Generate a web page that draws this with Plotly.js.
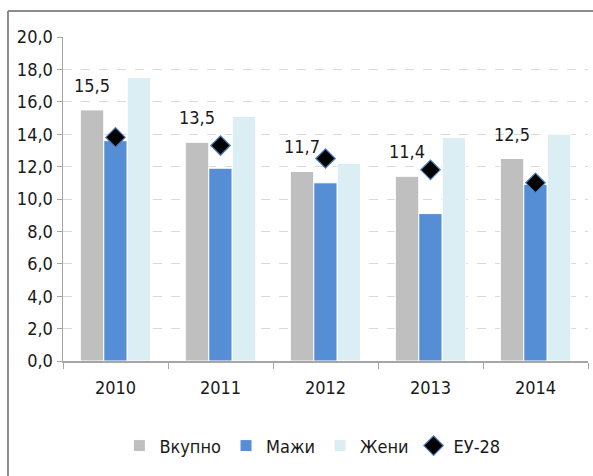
<!DOCTYPE html>
<html>
<head>
<meta charset="utf-8">
<script src="https://cdn.plot.ly/plotly-3.0.1.min.js"></script>
<style>html,body{margin:0;padding:0;background:#fff;}#chart{width:593px;height:476px;}</style>
</head>
<body>
<div id="chart"></div>
<script>
const years = ['2010', '2011', '2012', '2013', '2014'];
const vkupno = [15.5, 13.5, 11.7, 11.4, 12.5];
const mazhi = [13.6, 11.9, 11.0, 9.1, 10.9];
const zheni = [17.5, 15.1, 12.2, 13.8, 14.0];
const eu28 = [13.8, 13.3, 12.5, 11.8, 11.0];
const names = ['Вкупно', 'Мажи', 'Жени', 'ЕУ-28'];
const yTicks = [0, 2, 4, 6, 8, 10, 12, 14, 16, 18, 20];
const yTickText = yTicks.map(v => v.toFixed(1).replace('.', ','));

const FAM = '"Liberation Sans Narrow", "DejaVu Sans Condensed", "Liberation Sans", sans-serif';
const F = (s) => ({family: FAM, size: s, color: '#1a1a1a', stretch: 'condensed'});

const traces = [
  {type: 'bar', name: names[0], x: years, y: vkupno, marker: {color: '#bfbfbf', line: {color: '#ffffff', width: 1}}},
  {type: 'bar', name: names[1], x: years, y: mazhi, marker: {color: '#558ed5', line: {color: '#ffffff', width: 1}}},
  {type: 'bar', name: names[2], x: years, y: zheni, marker: {color: '#dbeef4', line: {color: '#ffffff', width: 1}}},
  {type: 'scatter', mode: 'markers', name: names[3], x: years, y: eu28,
   marker: {symbol: 'diamond', color: '#000000', size: 15, line: {color: '#4f81bd', width: 1.2}}}
];

// category axis: annotation x is the category's index
const annotations = years.map((yr, i) => ({
  x: i, y: vkupno[i], xref: 'x', yref: 'y', xshift: -23.5,
  text: vkupno[i].toFixed(1).replace('.', ','), showarrow: false,
  yanchor: 'bottom', yshift: 12, font: F(18)
}));

const layout = {
  width: 593, height: 476,
  margin: {l: 63, r: 5, t: 37, b: 115},
  paper_bgcolor: '#ffffff', plot_bgcolor: '#ffffff',
  barmode: 'group', bargap: 0.33, bargroupgap: 0,
  font: F(18),
  showlegend: true,
  legend: {orientation: 'h', x: 0.475, xanchor: 'center', y: -0.262, yanchor: 'middle', font: F(18)},
  xaxis: {type: 'category', showline: true, linecolor: '#a6a6a6', linewidth: 1.5,
          ticks: 'outside', tickson: 'boundaries', ticklen: 6, tickcolor: '#a6a6a6',
          showgrid: false, tickfont: F(18), tickangle: 0, ticklabelstandoff: 10},
  yaxis: {range: [0, 20], tickmode: 'array', tickvals: yTicks, ticktext: yTickText, showline: true, linecolor: '#a6a6a6', linewidth: 1.5,
          ticks: 'outside', ticklen: 5, tickcolor: '#a6a6a6', gridcolor: '#d9d9d9', griddash: 'dash', gridwidth: 1,
          zeroline: false, tickfont: F(18)},
  annotations: annotations,
  shapes: [
    {type: 'line', xref: 'paper', yref: 'paper', x0: -0.1048, x1: 1.02, y0: 1.0802, y1: 1.0802, line: {color: '#8c8c8c', width: 2}},
    {type: 'line', xref: 'paper', yref: 'paper', x0: -0.1048, x1: -0.1048, y0: 1.0802, y1: -0.36, line: {color: '#8c8c8c', width: 2}}
  ]
};

Plotly.newPlot('chart', traces, layout, {displayModeBar: false, staticPlot: true});
</script>
</body>
</html>
